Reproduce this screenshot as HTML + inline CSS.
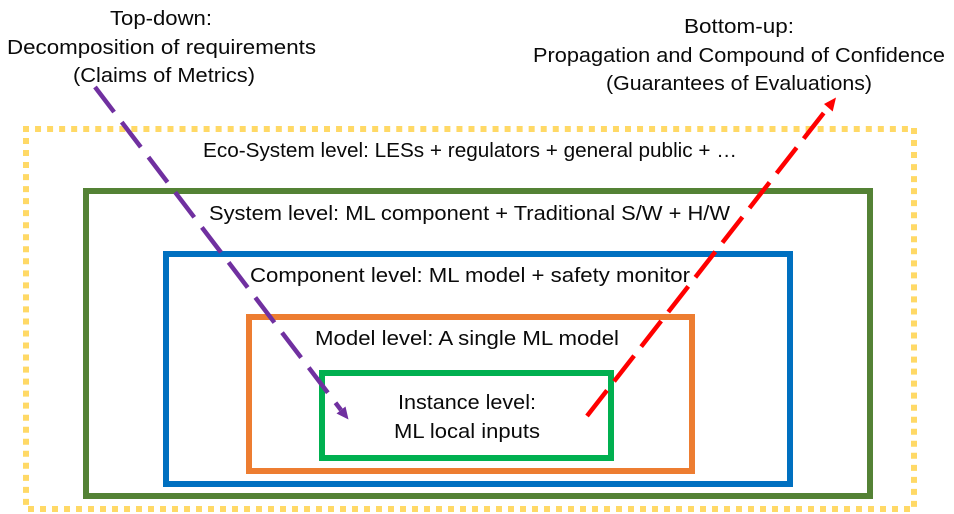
<!DOCTYPE html>
<html>
<head>
<meta charset="utf-8">
<style>
html,body{margin:0;padding:0;background:#fff;width:954px;height:514px;overflow:hidden}
svg{display:block}
text{font-family:"Liberation Sans",sans-serif;font-size:20.5px;fill:#0a0a0a}
</style>
</head>
<body>
<svg width="954" height="514" viewBox="0 0 954 514" xmlns="http://www.w3.org/2000/svg">
<rect width="954" height="514" fill="#fff"/>
<g stroke="#FFD966" stroke-width="6" fill="none">
<line x1="23" y1="129" x2="908" y2="129" stroke-dasharray="6 6.04"/>
<line x1="26" y1="138" x2="26" y2="505" stroke-dasharray="6 6.03"/>
<line x1="28" y1="509" x2="910" y2="509" stroke-dasharray="6 6"/>
<line x1="914" y1="128" x2="914" y2="507" stroke-dasharray="6 6.03"/>
</g>
<rect x="86" y="191" width="784" height="305" fill="none" stroke="#548235" stroke-width="6"/>
<rect x="166" y="254" width="624" height="230" fill="none" stroke="#0070C0" stroke-width="6"/>
<rect x="249" y="317" width="443" height="154" fill="none" stroke="#ED7D31" stroke-width="6"/>
<rect x="322" y="373" width="289" height="85" fill="none" stroke="#00B050" stroke-width="6"/>

<text x="110" y="25" textLength="102" lengthAdjust="spacingAndGlyphs">Top-down:</text>
<text x="7" y="54" textLength="309" lengthAdjust="spacingAndGlyphs">Decomposition of requirements</text>
<text x="73" y="82" textLength="182" lengthAdjust="spacingAndGlyphs">(Claims of Metrics)</text>
<text x="684" y="33" textLength="110" lengthAdjust="spacingAndGlyphs">Bottom-up:</text>
<text x="533" y="62" textLength="412" lengthAdjust="spacingAndGlyphs">Propagation and Compound of Confidence</text>
<text x="606" y="90" textLength="266" lengthAdjust="spacingAndGlyphs">(Guarantees of Evaluations)</text>
<text x="203" y="157" textLength="534" lengthAdjust="spacingAndGlyphs">Eco-System level: LESs + regulators + general public + …</text>
<text x="209" y="220" textLength="521" lengthAdjust="spacingAndGlyphs">System level: ML component + Traditional S/W + H/W</text>
<text x="250" y="282" textLength="440" lengthAdjust="spacingAndGlyphs">Component level: ML model + safety monitor</text>
<text x="315" y="345" textLength="304" lengthAdjust="spacingAndGlyphs">Model level: A single ML model</text>
<text x="398" y="409" textLength="138" lengthAdjust="spacingAndGlyphs">Instance level:</text>
<text x="394" y="438" textLength="146" lengthAdjust="spacingAndGlyphs">ML local inputs</text>

<line x1="95" y1="87" x2="341" y2="410" stroke="#7030A0" stroke-width="4.5" stroke-dasharray="31.5 12.6"/>
<polygon points="348.5,419.5 336.5,413.5 345.5,406.5" fill="#7030A0"/>
<line x1="587" y1="416" x2="823.7" y2="113" stroke="#FF0000" stroke-width="4.5" stroke-dasharray="32.5 11.5"/>
<polygon points="836,97.5 824,104 832.7,111.5" fill="#FF0000"/>
</svg>
</body>
</html>
